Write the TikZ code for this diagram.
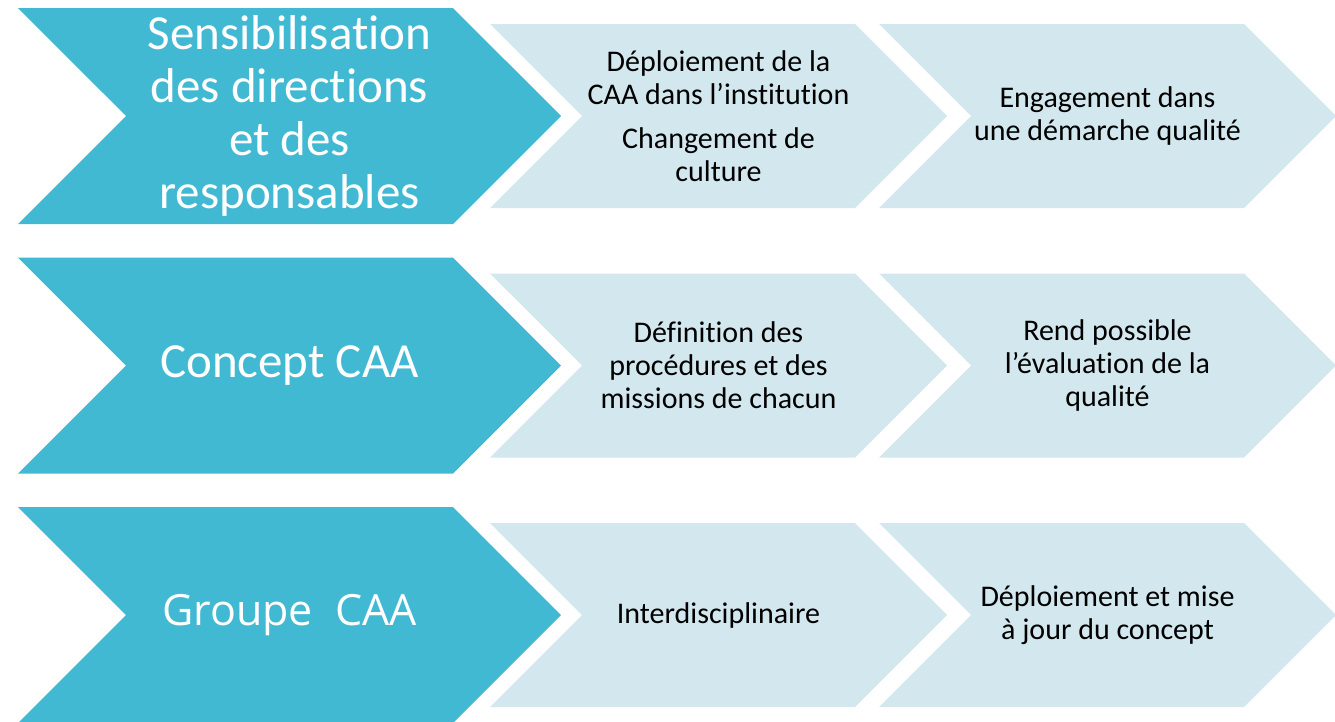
\documentclass[tikz,border=0pt]{standalone}
\usepackage{fontspec}
\setmainfont{Carlito}[Ligatures={TeX,NoCommon}]
\newfontfamily\groupfont{Open Sans}
\usepackage{tikz}
\usepackage{xcolor}
\usetikzlibrary{shapes.symbols}
\definecolor{Chev-Dark}{RGB}{66, 185, 211}
\definecolor{Chev-Light}{RGB}{210, 232, 238}

\begin{document}
\begin{tikzpicture}[x=1pt, y=-1pt,
    dark/.style={signal, signal from=west, signal to=east, signal pointer angle=90, fill=Chev-Dark, minimum width=543pt, minimum height=216pt, inner sep=0pt, outer sep=0pt, align=center, text=white, font=\fontsize{49}{53}\selectfont},
    light/.style={signal, signal from=west, signal to=east, signal pointer angle=90, fill=Chev-Light, minimum width=457pt, minimum height=184pt, inner sep=0pt, outer sep=0pt, align=center, text=black, font=\fontsize{30}{33}\selectfont}]

    \useasboundingbox (0,0) rectangle (1335,721);

    % row 1
    \node[dark] (sensib) at (289.5,116) {Sensibilisation\\des directions\\et des\\responsables};
    \node[light] (deploi) at (718.5,116) {Déploiement de la\\CAA dans l’institution\\[11pt]Changement de\\culture};
    \node[light] (engage) at (1107.5,116) {Engagement dans\\une démarche qualité};

    % row 2
    \node[dark] (concept) at (289.5,365.5) {Concept CAA};
    \node[light] (defin) at (718.5,365.5) {Définition des\\procédures et des\\missions de chacun};
    \node[light] (evalu) at (1107.5,365.5) {Rend possible\\l’évaluation de la\\qualité};

    % row 3
    \node[dark] (groupe) at (289.5,615) {\groupfont\fontsize{43}{50}\selectfont Groupe~ CAA};
    \node[light] (interd) at (718.5,615) {Interdisciplinaire};
    \node[light] (miseajour) at (1107.5,615) {Déploiement et mise\\à jour du concept};

\end{tikzpicture}
\end{document}
